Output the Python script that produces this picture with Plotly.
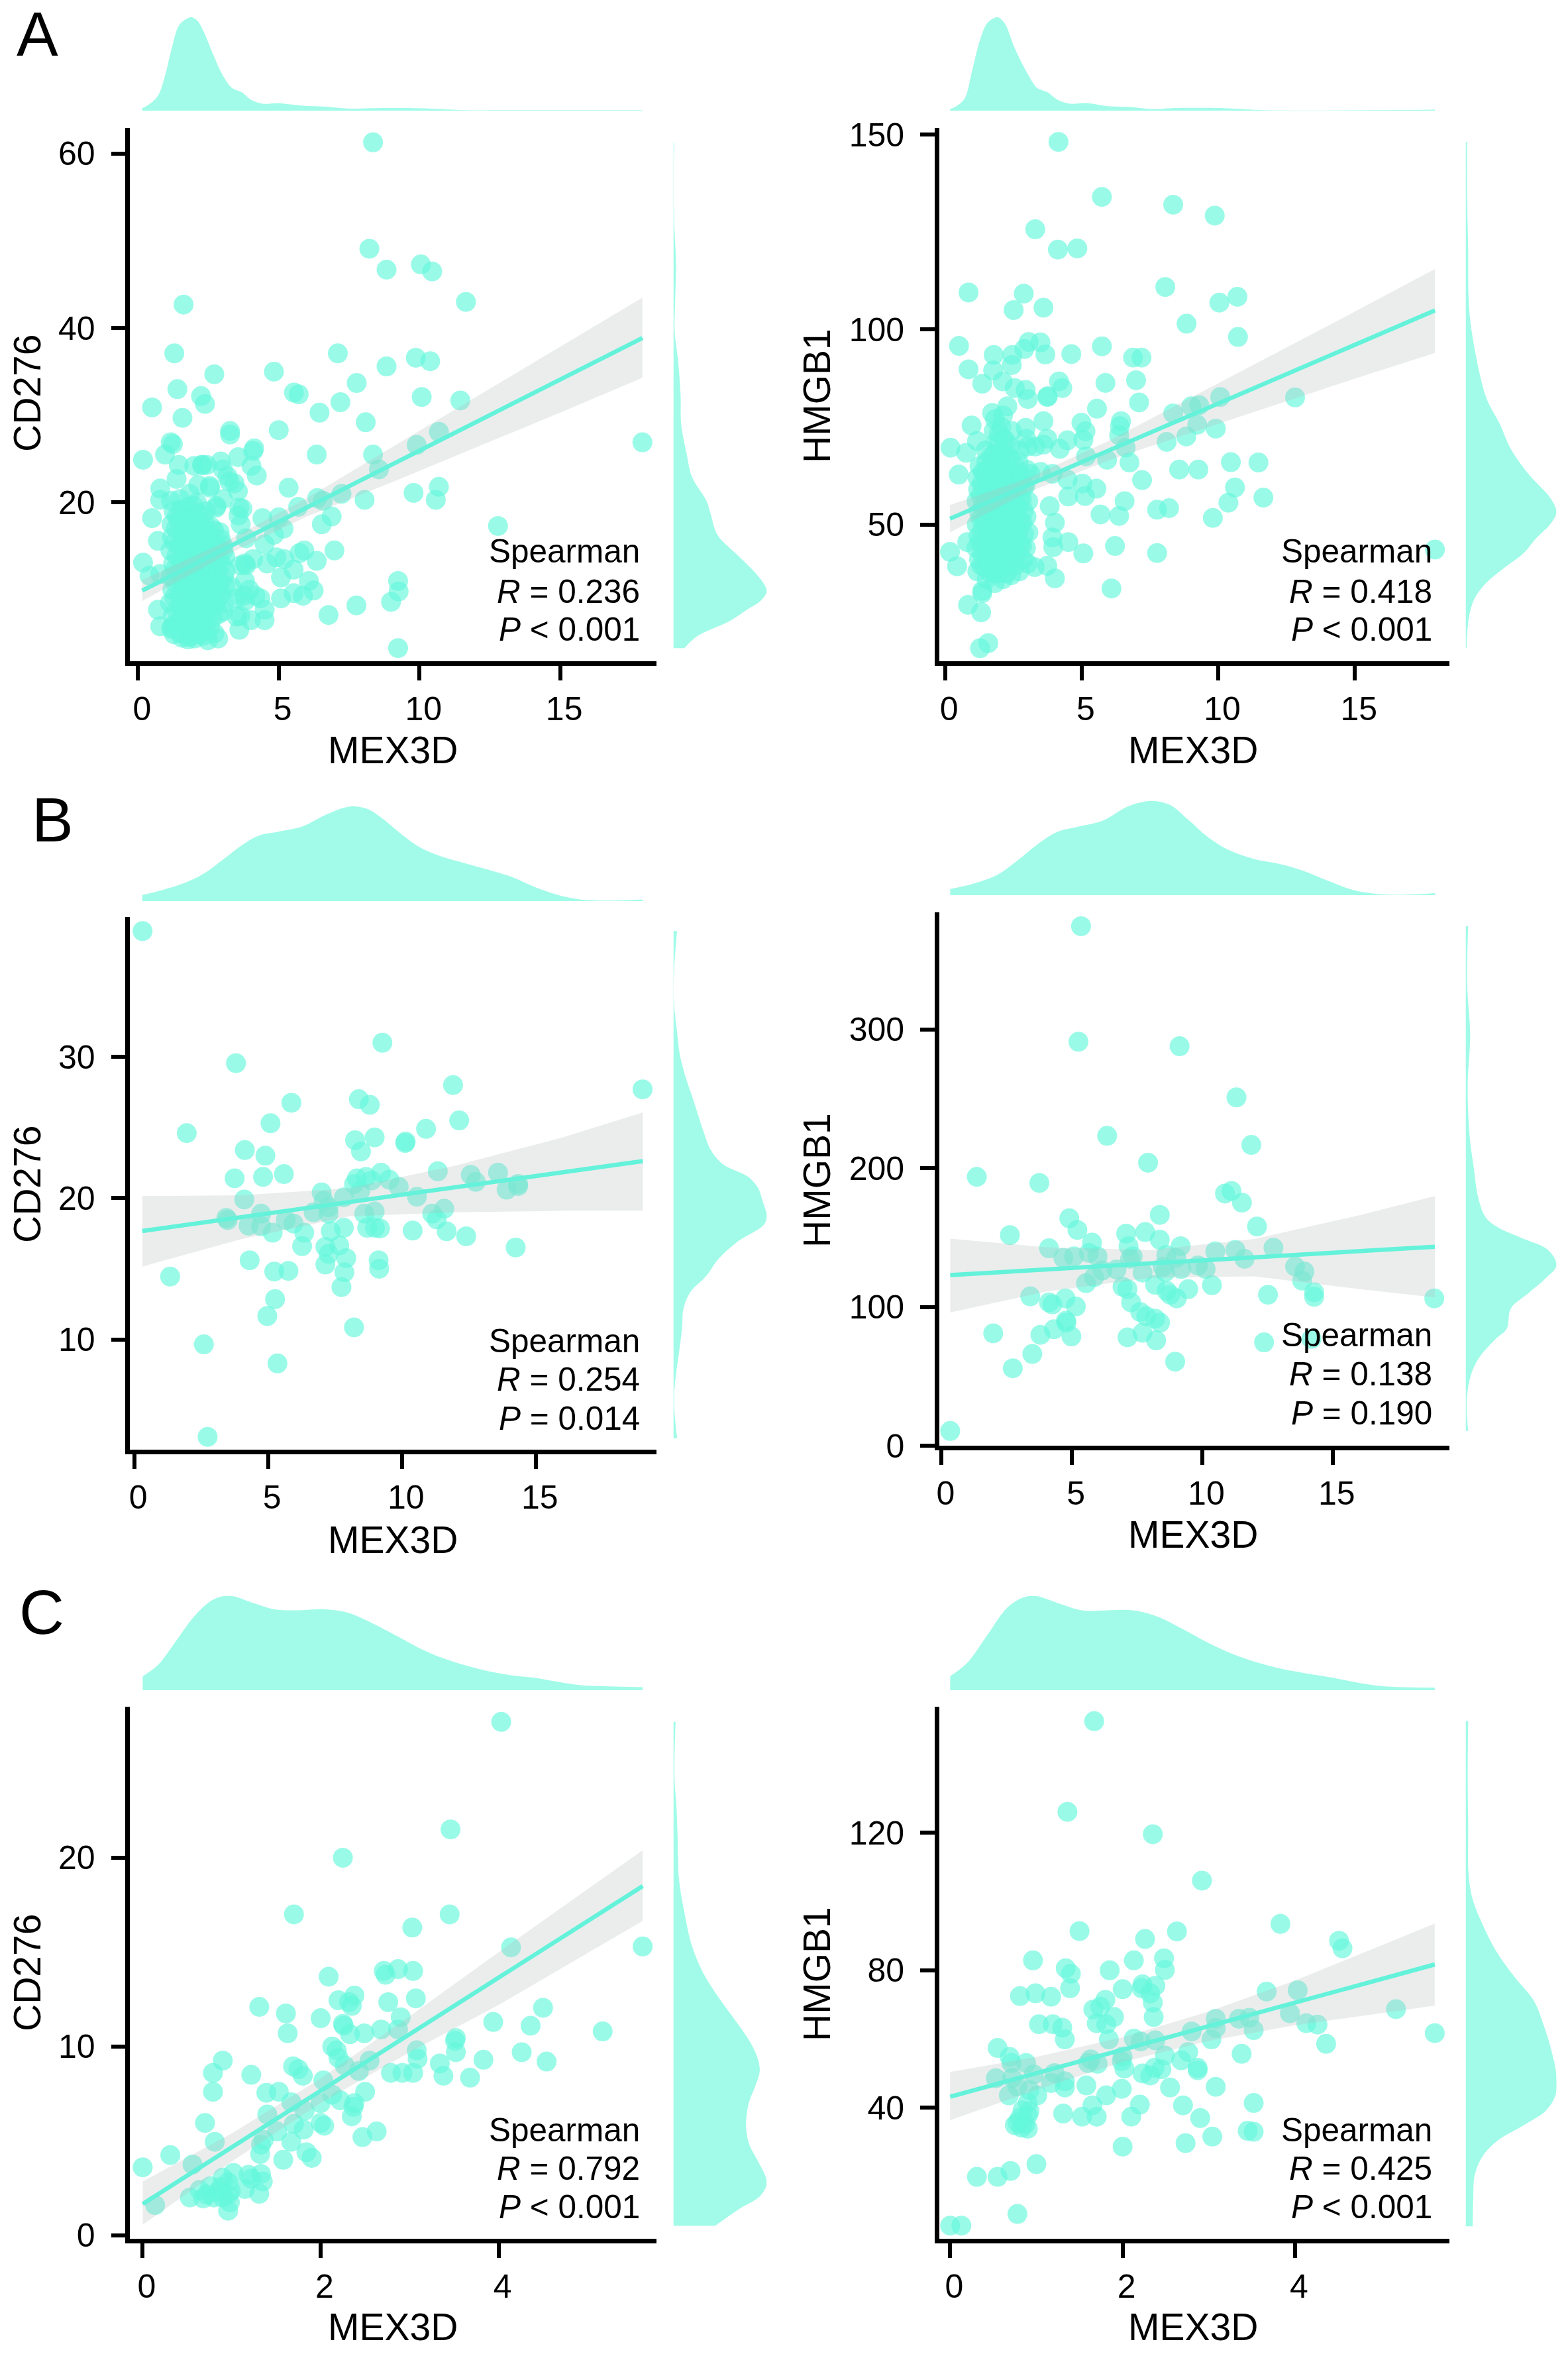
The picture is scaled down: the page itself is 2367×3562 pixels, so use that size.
import plotly.graph_objects as go

W, H = 2367, 3562
FONT = "Liberation Sans"
POINT = "#64F8DC"
LINE = "#64F2DA"
DENS = "#A1FBE8"
BAND = "rgba(180,190,190,0.27)"
AXIS_W = 6.5

a1_points = [
    (8.35, 61.3), (8.22, 49.1), (8.83, 46.7), (10.05, 47.3), (10.45, 46.5), (1.62, 42.7), (11.65, 43.0),
    (1.29, 37.1), (7.1, 37.1), (9.87, 36.6), (10.38, 36.2), (8.83, 35.6), (2.71, 34.7), (4.83, 35.0),
    (7.77, 33.7), (1.4, 33.0), (5.54, 32.6), (5.71, 32.4), (2.24, 32.2), (2.38, 31.3), (10.08, 32.1),
    (7.19, 31.5), (11.45, 31.7), (0.5, 30.9), (6.45, 30.3), (1.58, 29.7), (8.09, 29.2), (3.27, 28.2),
    (3.27, 27.8), (5.0, 28.3), (10.69, 28.1), (1.16, 26.9), (1.24, 26.7), (17.92, 26.9), (9.9, 26.6),
    (4.13, 26.2), (4.09, 25.9), (0.96, 25.5), (0.18, 24.9), (8.35, 25.5), (6.35, 25.5), (3.56, 25.2),
    (2.94, 24.7), (1.45, 24.3), (2.0, 24.2), (2.28, 24.3), (2.44, 24.3), (4.03, 24.2), (3.02, 23.8),
    (8.56, 23.8), (4.22, 23.1), (1.37, 22.7), (3.18, 23.0), (3.43, 22.2), (10.69, 21.8), (5.35, 21.7),
    (9.79, 21.1), (7.23, 21.0), (0.79, 21.6), (2.56, 21.7), (3.55, 21.3), (8.05, 20.3), (10.58, 20.3),
    (6.37, 20.5), (6.57, 20.2), (0.79, 20.3), (5.69, 19.5), (3.6, 19.4), (2.77, 19.4), (3.71, 19.3),
    (4.42, 18.2), (5.0, 18.3), (6.88, 18.4), (0.5, 18.2), (6.53, 17.5), (12.79, 17.3), (5.17, 17.0),
    (3.65, 17.5), (3.84, 15.9), (4.83, 16.3), (0.71, 15.6), (4.5, 15.2), (6.98, 14.5), (5.91, 14.5),
    (5.74, 14.2), (4.92, 13.7), (5.2, 13.5), (4.09, 13.5), (3.8, 13.0), (6.35, 13.3), (4.59, 13.0),
    (0.18, 13.1), (5.53, 12.3), (5.08, 11.4), (0.41, 11.6), (0.79, 11.8), (6.07, 11.0), (9.24, 11.0),
    (9.26, 9.8), (6.24, 9.9), (4.17, 9.3), (5.53, 9.6), (5.86, 9.3), (5.08, 9.0), (8.99, 8.6), (4.5, 7.7),
    (3.76, 9.3), (7.76, 8.2), (0.71, 7.7), (6.77, 7.1), (3.51, 6.9), (4.5, 6.5), (4.01, 6.5), (0.79, 5.8),
    (1.2, 5.7), (3.6, 5.4), (9.24, 3.3), (1.78, 4.3), (2.48, 4.2), (2.85, 4.4), (3.8, 8.7), (3.49, 9.0),
    (3.64, 7.0), (3.33, 10.3), (3.8, 11.0), (4.35, 9.0), (3.96, 10.0), (3.84, 12.8), (3.64, 12.8),
    (3.57, 18.5), (2.79, 19.6), (3.02, 20.4), (3.25, 22.4), (2.55, 21.9), (2.28, 24.3),
]
a1_cluster = [
    (1.18, 5.5), (1.24, 7.0), (1.14, 8.5), (1.22, 10.0), (1.16, 11.5), (1.25, 13.0), (1.15, 14.5),
    (1.21, 16.0), (1.19, 17.5), (1.26, 19.0), (1.17, 20.2), (1.52, 5.0), (1.46, 6.3), (1.55, 7.8),
    (1.48, 9.2), (1.54, 10.7), (1.44, 12.0), (1.53, 13.5), (1.47, 15.0), (1.56, 16.3), (1.45, 17.8),
    (1.51, 19.2), (1.49, 20.4), (1.82, 4.6), (1.76, 5.8), (1.85, 7.2), (1.78, 8.5), (1.84, 9.8),
    (1.74, 11.2), (1.83, 12.6), (1.77, 14.0), (1.86, 15.4), (1.75, 16.8), (1.81, 18.2), (1.79, 19.5),
    (1.84, 21.0), (2.12, 4.9), (2.06, 6.2), (2.15, 7.6), (2.08, 9.0), (2.14, 10.4), (2.04, 11.8),
    (2.13, 13.2), (2.07, 14.6), (2.16, 16.0), (2.05, 17.4), (2.11, 18.8), (2.09, 20.0), (2.14, 22.0),
    (2.42, 5.2), (2.36, 6.5), (2.45, 8.0), (2.38, 9.4), (2.44, 10.8), (2.34, 12.2), (2.43, 13.6),
    (2.37, 15.0), (2.46, 16.4), (2.35, 17.8), (2.41, 19.0), (2.72, 5.0), (2.66, 6.8), (2.75, 8.3),
    (2.68, 9.7), (2.74, 11.1), (2.64, 12.5), (2.73, 14.0), (2.67, 15.4), (2.71, 16.8), (3.02, 7.5),
    (2.96, 9.5), (3.05, 11.5), (2.98, 13.0), (3.04, 14.5), (2.94, 15.8),
    (1.32, 6.1), (1.36, 7.7), (1.29, 9.1), (1.35, 10.7), (1.31, 12.3), (1.37, 13.9), (1.3, 15.4),
    (1.34, 17.0), (1.38, 18.4), (1.66, 5.4), (1.62, 7.0), (1.69, 8.4), (1.64, 10.0), (1.68, 11.6),
    (1.61, 13.0), (1.67, 14.6), (1.63, 16.0), (1.7, 17.5), (1.65, 19.0), (1.96, 5.3), (1.92, 6.7),
    (1.99, 8.2), (1.94, 9.5), (1.98, 11.0), (1.91, 12.4), (1.97, 13.8), (1.93, 15.1), (2.0, 16.6),
    (1.95, 18.0), (1.98, 19.6), (2.26, 5.6), (2.22, 7.1), (2.29, 8.6), (2.24, 10.0), (2.28, 11.4),
    (2.21, 12.8), (2.27, 14.2), (2.23, 15.7), (2.3, 17.0), (2.25, 18.5), (2.56, 5.7), (2.52, 7.3),
    (2.59, 8.8), (2.54, 10.2), (2.58, 11.7), (2.51, 13.0), (2.57, 14.4), (2.53, 15.9), (2.6, 17.2),
    (2.86, 7.2), (2.82, 8.9), (2.89, 10.5), (2.84, 12.0), (2.88, 13.5), (2.81, 15.0), (1.28, 4.9),
    (2.02, 4.4), (2.32, 4.7), (1.56, 4.5), (3.08, 8.5), (3.1, 10.5), (3.12, 12.2), (3.1, 13.8),
    (3.02, 15.1), (2.9, 16.6),
]
a1_line_x = [0.15, 17.92]
a1_line_y = [9.9, 38.86]
a1_band_x = [0.15, 3, 6, 9, 12, 15, 17.92]
a1_band_hi = [11.1, 15.35, 20.5, 26.3, 32.1, 37.9, 43.5]
a1_band_lo = [8.7, 13.75, 18.4, 22.3, 26.3, 30.3, 34.3]
a1_top_x = [0.15, 0.38, 0.71, 0.96, 1.2, 1.45, 1.7, 1.9, 2.11, 2.36, 2.69, 3.02, 3.35, 3.68, 4.01, 4.42, 5, 5.83,
            6.65, 7.48, 8.3, 9.95, 10.78, 11.6, 13.25, 17.92]
a1_top_d = [5, 12, 30, 70, 125, 170, 183, 187, 180, 155, 110, 70, 45, 37, 22, 14, 15, 10, 8, 4, 5, 5, 3, 1, 1, 1]
a1_side_y = [61.3, 52.8, 47.3, 43.0, 39.6, 36.1, 32.2, 29.1, 25.6, 22.9, 20.2, 18.6, 16.3, 14.0, 12.0, 10.5, 9.8,
             8.7, 7.8, 6.4, 4.7, 3.3]
a1_side_d = [3, 3, 12, 8, 6, 22, 33, 35, 60, 85, 150, 170, 200, 290, 370, 415, 424, 395, 340, 255, 110, 50]

# panel A, HMGB1 vs MEX3D
a2_points = [
    (4.15, 148.1), (5.74, 134), (8.35, 132), (9.87, 129.2), (3.3, 125.7), (4.84, 120.8), (4.13, 120.5),
    (0.86, 109.5), (2.88, 109.2), (8.06, 110.9), (10.7, 108.4), (10.04, 106.9), (3.6, 105.6), (2.51, 105),
    (8.84, 101.5), (10.72, 98.1), (0.51, 95.8), (3.06, 96.8), (3.49, 96.7), (5.74, 95.7), (4.62, 93.7),
    (3.67, 93.6), (2.9, 95), (2.46, 93.5), (1.78, 93.5), (6.88, 92.8), (7.19, 92.8), (2.44, 90.9),
    (1.76, 89.5), (0.86, 89.8), (6.99, 87), (5.87, 86.3), (1.36, 86.1), (4.17, 86.7), (4.29, 85),
    (2.11, 86.7), (2.95, 84.5), (2.55, 85), (3.76, 82.9), (3.74, 82.7), (10.07, 82.7), (12.81, 82.6),
    (3.03, 82.2), (7.1, 81.3), (9.01, 80.3), (9.3, 80.6), (5.56, 79.7), (8.35, 78.5), (1.72, 78.6),
    (2.28, 80.3), (3.6, 76.5), (4.99, 76.1), (6.44, 76.5), (6.4, 75.2), (0.97, 75.4), (9.23, 75.6),
    (9.91, 74.6), (5.14, 73.9), (2.95, 74.8), (6.37, 72.9), (8.83, 72.6), (5.06, 71.7), (4.48, 71.6),
    (8.11, 71.2), (3.74, 72), (1.17, 71.4), (6.61, 69.7), (0.2, 69.7), (4.2, 69.4), (0.77, 68.4),
    (5.16, 67.5), (5.93, 66.6), (6.75, 65.9), (10.46, 66), (11.47, 65.9), (8.57, 64.1), (9.27, 64.1),
    (0.5, 62.8), (3.93, 63), (4.48, 61.5), (7.21, 61.4), (5.03, 60.5), (5.54, 59.2), (10.61, 59.5),
    (5.12, 57.3), (4.51, 57.2), (11.65, 56.9), (6.57, 56), (10.37, 55.6), (8.2, 54.2), (7.76, 53.8),
    (5.69, 52.6), (6.37, 52.2), (9.8, 51.7), (3.83, 54.7), (4.02, 50.5), (3.93, 46.7), (0.81, 45.5),
    (4.51, 45.5), (6.22, 44.5), (17.93, 43.6), (0.18, 43), (5.06, 42.6), (7.76, 42.7), (3.96, 44.2),
    (3.74, 39.4), (0.44, 39.3), (3.28, 39.1), (4.02, 36.2), (6.09, 33.6), (1.36, 33), (0.84, 29.4),
    (1.36, 32.4), (1.32, 27.5), (1.58, 19.6), (1.28, 18.3),
]
a2_cluster = [
    (1.18, 38), (1.24, 41), (1.14, 44), (1.22, 47), (1.16, 50), (1.25, 53), (1.15, 56), (1.21, 59),
    (1.19, 62), (1.26, 65), (1.52, 36), (1.46, 39), (1.55, 42), (1.48, 45), (1.54, 48), (1.44, 51),
    (1.53, 54), (1.47, 57), (1.56, 60), (1.45, 63), (1.51, 66), (1.49, 69), (1.82, 35), (1.76, 38),
    (1.85, 41), (1.78, 44), (1.84, 47), (1.74, 50), (1.83, 53), (1.77, 56), (1.86, 59), (1.75, 62),
    (1.81, 65), (1.79, 68), (1.84, 71), (1.78, 74), (1.83, 77), (2.12, 36), (2.06, 39), (2.15, 42),
    (2.08, 45), (2.14, 48), (2.04, 51), (2.13, 54), (2.07, 57), (2.16, 60), (2.05, 63), (2.11, 66),
    (2.09, 69), (2.14, 72), (2.06, 75), (2.12, 78), (2.42, 37), (2.36, 40), (2.45, 43), (2.38, 46),
    (2.44, 49), (2.34, 52), (2.43, 55), (2.37, 58), (2.46, 61), (2.35, 64), (2.41, 67), (2.39, 70),
    (2.44, 74), (2.72, 38), (2.66, 42), (2.75, 45), (2.68, 48), (2.74, 51), (2.64, 54), (2.73, 57),
    (2.67, 60), (2.71, 63), (2.69, 66), (2.74, 69), (3.02, 40), (2.96, 44), (3.05, 48), (2.98, 52),
    (3.04, 56), (2.94, 60), (3.01, 64), (3.03, 70), (2.97, 72), (3.3, 70), (3.6, 70.5), (3.12, 63),
    (3.5, 63.5),
    (1.32, 39.5), (1.36, 42.5), (1.29, 45.5), (1.35, 48.5), (1.31, 51.5), (1.37, 54.5), (1.3, 57.5),
    (1.34, 60.5), (1.38, 63.5), (1.66, 37.5), (1.62, 40.5), (1.69, 43.5), (1.64, 46.5), (1.68, 49.5),
    (1.61, 52.5), (1.67, 55.5), (1.63, 58.5), (1.7, 61.5), (1.65, 64.5), (1.68, 67.5), (1.96, 37.5),
    (1.92, 40.5), (1.99, 43.5), (1.94, 46.5), (1.98, 49.5), (1.91, 52.5), (1.97, 55.5), (1.93, 58.5),
    (2.0, 61.5), (1.95, 64.5), (1.98, 67.5), (1.94, 70.5), (1.97, 73.5), (2.26, 37.5), (2.22, 40.5),
    (2.29, 43.5), (2.24, 46.5), (2.28, 49.5), (2.21, 52.5), (2.27, 55.5), (2.23, 58.5), (2.3, 61.5),
    (2.25, 64.5), (2.28, 67.5), (2.22, 71.5), (2.56, 39.5), (2.52, 43.5), (2.59, 46.5), (2.54, 49.5),
    (2.58, 52.5), (2.51, 55.5), (2.57, 58.5), (2.53, 61.5), (2.6, 64.5), (2.86, 41), (2.82, 44.5),
    (2.89, 47.5), (2.84, 50.5), (2.88, 53.5), (2.81, 56.5), (2.87, 59.5), (2.83, 62.5),
]
a2_line_x = [0.18, 17.93]
a2_line_y = [51.5, 104.9]
a2_band_x = [0.18, 3, 6, 9, 12, 15, 17.93]
a2_band_hi = [55, 61.8, 71.5, 82.5, 93.5, 104.6, 115.5]
a2_band_lo = [48, 58.2, 66.5, 73.5, 80.5, 87.4, 94]
a2_top_x = [0.18, 0.44, 0.72, 0.99, 1.27, 1.54, 1.82, 1.94, 2.18, 2.55, 3.01, 3.38, 3.74, 4.11, 4.57, 5.21, 5.94,
            6.86, 7.6, 8.33, 10.17, 10.9, 11.63, 17.93]
a2_top_d = [3, 10, 25, 80, 140, 175, 186, 187, 175, 125, 75, 45, 37, 22, 14, 15, 9, 7, 3, 5, 5, 3, 1, 2]
a2_side_y = [148.1, 133.4, 120.6, 107.8, 101.4, 95, 88.6, 82.2, 75.8, 69.4, 63, 56.6, 53.1, 50.3, 46.4, 42.6, 38.7,
             34.9, 31.1, 27.2, 22.1, 18.3]
a2_side_d = [3, 3, 5, 6, 10, 18, 28, 42, 68, 90, 125, 170, 181, 170, 140, 115, 75, 40, 18, 8, 3, 2]

# panel B, CD276 vs MEX3D
b1_points = [
    (0.31, 38.9), (9.27, 31.0), (3.8, 29.55), (11.91, 28), (18.99, 27.7), (5.87, 26.75), (8.39, 27), (8.8, 26.6),
    (5.09, 25.3), (12.14, 25.5), (1.96, 24.6), (10.9, 24.9), (8.25, 24.1), (8.98, 24.3), (10.14, 24), (10.12, 23.9),
    (4.13, 23.4), (8.47, 23.3), (4.9, 23), (11.34, 21.9), (3.75, 21.4), (4.81, 21.5), (5.59, 21.7), (9.22, 21.8),
    (8.66, 21.5), (8.32, 21.4), (8.21, 21), (9.53, 21.3), (8.87, 21.25), (12.57, 21.65), (12.76, 21.15), (13.59, 21.8),
    (14.34, 21), (14.34, 20.85), (13.91, 20.6), (9.88, 20.8), (8.44, 20.5), (7, 20.4), (10.56, 20.1), (4.11, 19.9),
    (7.83, 20.05), (7.08, 19.8), (7.26, 19.35), (6.7, 19), (7.26, 18.9), (8.98, 19.05), (8.59, 18.9), (11.13, 18.9),
    (11.58, 19.25), (4.74, 18.9), (3.44, 18.6), (3.49, 18.45), (5.66, 18.45), (5.95, 18.2), (4.27, 18.05), (4.74, 18),
    (11.3, 18.5), (7.83, 17.9), (8.7, 17.9), (8.99, 17.9), (9.18, 17.85), (10.4, 17.7), (11.67, 17.65), (6.35, 17.55),
    (5.17, 17.55), (7.34, 17.65), (12.4, 17.3), (6.27, 16.6), (7.14, 16.55), (7.66, 16.65), (14.25, 16.5), (7.26, 16.05),
    (7.92, 15.75), (4.31, 15.6), (9.13, 15.6), (7.14, 15.3), (9.15, 15), (5.76, 14.85), (5.23, 14.8), (7.85, 14.75),
    (1.34, 14.45), (7.74, 13.7), (5.26, 12.85), (4.97, 11.65), (8.21, 10.85), (2.6, 9.65), (5.35, 8.3), (2.74, 3.1),
]
b1_line_x = [0.3, 19.0]
b1_line_y = [17.67, 22.62]
b1_band_x = [0.3, 4, 8, 12, 16, 19.0]
b1_band_hi = [20.14, 20.2, 20.7, 22.3, 24.3, 26.07]
b1_band_lo = [15.15, 17.1, 18.7, 19.0, 19.1, 19.1]
b1_top_x = [0.3, 1.06, 1.93, 2.62, 3.32, 4.01, 4.7, 5.4, 6.27, 7.14, 7.83, 8.18, 8.7, 9.22, 9.91, 10.61, 11.48,
            12.34, 13.21, 14.08, 14.95, 15.82, 16.68, 17.55, 19]
b1_top_d = [12, 22, 37, 55, 82, 110, 130, 137, 147, 170, 184, 187, 182, 165, 135, 108, 88, 75, 62, 48, 28, 12, 3, 1, 3]
b1_side_y = [38.9, 37.3, 35.6, 33.7, 32, 30.1, 28.6, 27.2, 26, 24.8, 23.4, 22.4, 21.5, 20.7, 19.8, 18.7, 18.1, 16.9,
             15.7, 14.5, 13.3, 12.1, 10.9, 9, 7.3, 5.6, 3]
b1_side_d = [17, 8, 2, 3, 15, 30, 55, 85, 110, 135, 170, 225, 340, 385, 405, 424, 410, 290, 205, 150, 75, 45, 40, 25,
             10, 3, 17]

# panel B, HMGB1 vs MEX3D
b2_points = [
    (5.35, 374.5), (5.25, 291.2), (9.13, 288), (11.31, 251.1), (6.35, 223.4), (11.88, 216.8), (7.92, 204), (1.35, 193.8),
    (3.75, 189.4), (11.12, 183.6), (10.87, 181.8), (11.52, 175.2), (8.37, 166.4), (4.9, 163.9), (12.1, 158), (5.21, 155.5),
    (2.62, 151.8), (7.08, 152.9), (7.81, 154), (8.37, 148.5), (5.77, 146.4), (9.17, 143.8), (4.12, 142.3), (7.17, 143.8),
    (12.73, 142.7), (10.5, 140.1), (11.27, 141.2), (5.65, 139), (8.62, 137.6), (4.67, 135.4), (5.08, 136.5), (5.98, 136.5),
    (7.33, 136.5), (7.23, 134.7), (9, 135.4), (11.62, 134.7), (9.83, 129.9), (13.56, 129.2), (8.48, 128.8), (9.19, 127.4),
    (10.13, 127.4), (6.17, 126.3), (6.71, 127), (13.92, 125.5), (7.71, 124.8), (5.85, 121.5), (8.58, 125.2), (13.83, 119),
    (8.19, 116), (5.54, 117.2), (10.37, 115.7), (6.94, 114.6), (9.46, 112.8), (8.63, 111.7), (7.13, 112.8), (14.29, 110.6),
    (12.52, 108.8), (14.29, 107.3), (8.77, 108.8), (3.4, 107.7), (9.02, 106.2), (18.9, 106.2), (4.75, 106.2), (4.12, 103.3),
    (4.25, 101.8), (7.27, 103.3), (5.15, 100.4), (7.62, 96.4), (7.85, 93.4), (8.19, 91.6), (4.77, 90.1), (4.79, 88.7),
    (8.38, 88.7), (4.31, 83.9), (3.79, 79.9), (1.98, 81), (4.98, 78.8), (7.71, 81.4), (7.13, 78.1), (8.23, 75.9),
    (14.19, 77), (12.37, 74.5), (3.48, 66.1), (8.96, 60.6), (2.73, 55.8), (0.33, 10.6),
]
b2_line_x = [0.33, 18.92]
b2_line_y = [123, 143.4]
b2_band_x = [0.33, 4, 8, 12, 16, 18.92]
b2_band_hi = [149.3, 143, 141, 149, 166, 179.9]
b2_band_lo = [96, 111, 121, 122, 113, 106.9]
b2_top_x = [0.33, 1.17, 2.13, 2.9, 3.67, 4.44, 5.21, 6.17, 7.13, 7.81, 8.19, 8.77, 9.44, 10.21, 10.98, 11.94, 13.1,
            13.87, 14.83, 15.79, 16.75, 17.9, 18.92]
b2_top_d = [12, 22, 40, 68, 100, 125, 135, 147, 175, 185, 186, 178, 150, 115, 90, 72, 60, 48, 28, 10, 2, 1, 4]
b2_side_y = [374.5, 332.5, 296, 259.5, 223, 201, 179, 164.6, 157.3, 150, 140.9, 129.9, 120.8, 109.9, 98.9, 84.3, 77,
             62.4, 47.8, 29.6, 10.6]
b2_side_d = [5, 3, 9, 4, 8, 16, 25, 40, 65, 110, 165, 181, 160, 125, 90, 82, 60, 25, 8, 2, 5]

# panel C, CD276 vs MEX3D
c1_points = [
    (4.03, 27.2), (3.46, 21.5), (2.25, 20), (1.7, 17), (3.45, 17), (3.03, 16.3), (5.62, 15.3), (4.14, 15.25), (2.71, 14),
    (2.87, 14.1), (2.73, 13.8), (3.04, 14), (2.09, 13.7), (2.38, 12.7), (2.2, 12.45), (2.32, 12.35), (2.35, 12.15),
    (2.76, 12.35), (3.07, 12.55), (1.31, 12.1), (4.5, 12.05), (1.61, 11.75), (2, 11.5), (2.9, 11.55), (2.25, 11.2),
    (2.26, 11.1), (3.94, 11.3), (4.36, 11.1), (2.87, 10.9), (2.68, 10.9), (5.17, 10.8), (1.63, 10.7), (2.33, 10.65),
    (2.49, 10.7), (3.52, 10.45), (3.51, 10.3), (2.13, 10), (3.52, 9.7), (3.08, 9.8), (4.26, 9.7), (2.18, 9.8), (2.2, 9.4),
    (0.9, 9.25), (2.55, 9.25), (3.09, 9.35), (3.83, 9.3), (4.54, 9.2), (3.34, 9.1), (2.27, 9), (1.69, 8.95), (1.75, 8.8),
    (2.43, 8.7), (0.79, 8.6), (2.79, 8.6), (2.92, 8.6), (3.04, 8.6), (3.38, 8.45), (1.22, 8.5), (1.8, 8.45), (3.68, 8.35),
    (2.03, 8.2), (1.53, 7.6), (2.5, 7.6), (0.79, 7.6), (1.39, 7.55), (2.13, 7.45), (1.67, 7.05), (2.22, 7.15), (2, 7),
    (2.38, 7), (2.37, 6.8), (1.82, 6.6), (1.4, 6.4), (2.35, 6.3), (0.7, 5.95), (2, 5.95), (1.7, 5.9), (2.04, 5.8),
    (1.81, 5.6), (1.51, 5.5), (2.63, 5.5), (2.47, 5.2), (1.67, 4.95), (0.81, 4.95), (1.36, 5.05), (1.33, 4.8), (1.84, 4.4),
    (1.32, 4.3), (1.9, 4.1), (0.31, 4.25), (1.58, 4), (0, 3.6), (0.56, 3.75), (1.02, 3.3), (1.19, 3.2), (1.33, 3.25),
    (0.9, 3.05), (1.35, 2.85), (1.22, 3), (1.15, 2.45), (1.31, 2.2), (0.76, 2.6), (0.64, 2.4), (0.53, 2), (0.68, 1.95),
    (0.8, 2), (0.96, 2.15), (0.88, 2.55), (0.96, 2.8), (0.85, 2.3), (0.98, 1.75), (0.96, 1.3), (0.14, 1.6), (0.9, 2),
    (0.99, 2.35), (0.72, 2.15),
]
c1_line_x = [0, 5.62]
c1_line_y = [1.66, 18.5]
c1_band_x = [0, 1, 2, 3, 4, 5.62]
c1_band_hi = [2.85, 5.4, 8.3, 11.6, 15.0, 20.4]
c1_band_lo = [0.55, 3.9, 7.0, 9.7, 12.2, 16.65]
c1_top_x = [0, 0.17, 0.38, 0.59, 0.8, 0.98, 1.22, 1.48, 1.74, 2.05, 2.31, 2.57, 2.84, 3.1, 3.36, 3.62, 3.88, 4.14,
            4.4, 4.66, 4.92, 5.19, 5.62]
c1_top_d = [28, 50, 100, 150, 182, 189, 176, 162, 160, 162, 155, 135, 110, 85, 65, 50, 38, 30, 25, 17, 10, 8, 6]
c1_side_y = [27.2, 24.3, 22.5, 20.7, 18.9, 17.1, 15.3, 13.9, 12.6, 11.4, 10.3, 9.4, 8.7, 8, 6.9, 5.7, 4.8, 3.9, 2.8,
             2.1, 1.4, 0.5]
c1_side_d = [10, 5, 15, 20, 25, 50, 85, 135, 205, 280, 345, 382, 392, 375, 340, 330, 345, 385, 424, 395, 300, 190]

# panel C, HMGB1 vs MEX3D
c2_points = [
    (1.67, 152.5), (1.36, 126.1), (2.35, 119.6), (2.92, 106.1), (3.83, 93.5), (1.5, 91.4), (2.63, 91.3), (2.26, 89.1),
    (4.51, 88.6), (4.55, 86.4), (0.96, 82.9), (2.13, 82.9), (2.48, 83.5), (1.34, 80.6), (1.4, 79), (1.85, 80), (2.49, 80.1),
    (1.39, 74.8), (2.23, 75.9), (2.38, 75.5), (2, 74.5), (2.22, 74.8), (2.32, 73.3), (3.67, 73.8), (4.03, 74.2), (0.81, 72.5),
    (0.99, 73.3), (1.17, 72.3), (1.8, 71.4), (2.35, 70.6), (1.74, 69.4), (1.66, 68.6), (5.17, 68.7), (3.94, 67.5), (1.9, 66.4),
    (2.36, 66.4), (1.7, 64.6), (1.81, 64.3), (3.08, 65.9), (3.35, 65.9), (3.47, 66.2), (1.03, 64.3), (1.19, 64.3), (1.3, 63.3),
    (4.13, 64.6), (4.26, 64.2), (3.08, 63.2), (3.52, 62.6), (5.62, 61.7), (2.8, 62.2), (1.84, 59.9), (1.33, 59.9), (2.13, 60.1),
    (2.21, 59.3), (2.38, 59.6), (3.03, 59.9), (0.55, 57.4), (4.36, 58.6), (3.38, 55.7), (2.76, 56.2), (0.69, 54.8), (2, 54.9),
    (2.49, 55.2), (1.63, 54.1), (0.71, 53), (0.88, 53), (1.99, 53.5), (2.68, 53.8), (1.6, 53), (1.71, 52.8), (2.02, 51.4),
    (2.37, 51.6), (2.45, 51.2), (2.87, 51.6), (2.87, 50.9), (1.21, 50.1), (0.97, 49.7), (2.23, 50), (2.32, 49.4), (0.53, 48.6),
    (0.72, 48.7), (1.33, 47.7), (1.17, 47.2), (1.33, 45.9), (1.58, 46.5), (2.55, 45.9), (3.08, 46.1), (1.99, 45.5), (0.78, 46.2),
    (1.01, 43.6), (0.68, 43.6), (1.81, 43.6), (0.92, 45.1), (3.52, 41.4), (1.65, 40.7), (2.2, 40.9), (0.9, 41.4), (2.7, 40.7),
    (0.84, 39.3), (0.92, 39), (1.31, 38.3), (2.1, 37.4), (1.53, 37.4), (1.7, 37.4), (2.9, 37), (0.81, 37.1), (0.9, 37.8),
    (0.78, 35.7), (0.87, 35.2), (0.75, 34.9), (0.9, 33.9), (0.83, 34.2), (3.45, 33.3), (3.52, 33), (3.04, 31.6), (2.73, 29.7),
    (2, 28.7), (1, 23.6), (0.7, 21.6), (0.31, 19.9), (0.55, 19.9), (0.78, 9.1), (0, 5.7), (0.13, 5.7),
]
c2_line_x = [0, 5.62]
c2_line_y = [43.2, 81.7]
c2_band_x = [0, 1, 2, 3, 4, 5.62]
c2_band_hi = [50.4, 54.8, 60.5, 68, 77, 93.6]
c2_band_lo = [36.4, 45.2, 53.3, 59.5, 64, 69.7]
c2_top_x = [0, 0.2, 0.43, 0.66, 0.84, 0.98, 1.24, 1.53, 1.83, 2.12, 2.41, 2.7, 2.99, 3.28, 3.57, 3.86, 4.15, 4.44,
            4.73, 5.02, 5.62]
c2_top_d = [28, 55, 110, 165, 185, 189, 175, 160, 160, 160, 147, 122, 95, 72, 55, 42, 33, 25, 15, 8, 5]
c2_side_y = [152.5, 136.4, 121.9, 107.4, 100.1, 92.9, 85.7, 78.4, 71.2, 63.9, 56.7, 49.4, 43.6, 39.3, 34.9, 30.6,
             26.2, 20.4, 13.2, 5.5]
c2_side_d = [5, 4, 5, 6, 15, 35, 60, 95, 135, 155, 170, 180, 178, 160, 115, 65, 35, 18, 15, 14]

panels = [
    dict(points=a1_points + a1_cluster, line=(a1_line_x, a1_line_y), band=(a1_band_x, a1_band_hi, a1_band_lo),
         top=(a1_top_x, a1_top_d), side=(a1_side_y, a1_side_d), name="CD276", xticks=[0, 5, 10, 15], yticks=[20, 40, 60],
         xr=[-0.36, 18.42], yr=[1.57, 62.96], box=(193, 991, 193, 1001), top_px=(26, 167), side_px=(1016.5, 1157.5),
         ytitle=(41, 594), xtitle=(593, 1132), note=(968, [831, 892, 950]), stats=("0.236", "<", "0.001")),
    dict(points=a2_points + a2_cluster, line=(a2_line_x, a2_line_y), band=(a2_band_x, a2_band_hi, a2_band_lo),
         top=(a2_top_x, a2_top_d), side=(a2_side_y, a2_side_d), name="HMGB1", xticks=[0, 5, 10, 15], yticks=[50, 100, 150],
         xr=[-0.29, 18.46], yr=[14.45, 151.7], box=(1414.7, 2188, 193, 1001), top_px=(26, 167), side_px=(2212.5, 2349.5),
         ytitle=(1233, 598), xtitle=(1801, 1132), note=(2164, [831, 892, 950]), stats=("0.418", "<", "0.001")),
    dict(points=b1_points, line=(b1_line_x, b1_line_y), band=(b1_band_x, b1_band_hi, b1_band_lo),
         top=(b1_top_x, b1_top_d), side=(b1_side_y, b1_side_d), name="CD276", xticks=[0, 5, 10, 15], yticks=[10, 20, 30],
         xr=[-0.24, 19.51], yr=[2.03, 39.9], box=(193, 991, 1384, 2191.5), top_px=(1217, 1360), side_px=(1016.5, 1157.5),
         ytitle=(41, 1788), xtitle=(593, 2324), note=(968, [2023, 2081, 2140]), stats=("0.254", "=", "0.014")),
    dict(points=b2_points, line=(b2_line_x, b2_line_y), band=(b2_band_x, b2_band_hi, b2_band_lo),
         top=(b2_top_x, b2_top_d), side=(b2_side_y, b2_side_d), name="HMGB1", xticks=[0, 5, 10, 15], yticks=[0, 100, 200, 300],
         xr=[-0.17, 19.48], yr=[0, 384.7], box=(1414.7, 2188, 1376.6, 2182), top_px=(1209, 1351), side_px=(2212.5, 2349.5),
         ytitle=(1233, 1782), xtitle=(1801, 2316), note=(2164, [2014, 2073, 2132]), stats=("0.138", "=", "0.190")),
    dict(points=c1_points, line=(c1_line_x, c1_line_y), band=(c1_band_x, c1_band_hi, c1_band_lo),
         top=(c1_top_x, c1_top_d), side=(c1_side_y, c1_side_d), name="CD276", xticks=[0, 2, 4], yticks=[0, 10, 20],
         xr=[-0.167, 5.775], yr=[-0.29, 28], box=(193, 991, 2576, 3382), top_px=(2408.6, 2551), side_px=(1016.5, 1157.5),
         ytitle=(41, 2978), xtitle=(593, 3512), note=(968, [3214, 3272, 3330]), stats=("0.792", "<", "0.001")),
    dict(points=c2_points, line=(c2_line_x, c2_line_y), band=(c2_band_x, c2_band_hi, c2_band_lo),
         top=(c2_top_x, c2_top_d), side=(c2_side_y, c2_side_d), name="HMGB1", xticks=[0, 2, 4], yticks=[40, 80, 120],
         xr=[-0.151, 5.79], yr=[1.3, 156.7], box=(1414.7, 2188, 2576, 3382), top_px=(2408.6, 2551), side_px=(2212.5, 2349.5),
         ytitle=(1233, 2980), xtitle=(1801, 3512), note=(2164, [3214, 3272, 3330]), stats=("0.425", "<", "0.001")),
]
letters = [("A", 56, 52), ("B", 79, 1237), ("C", 63, 2433)]


def px_x(v):
    return v / W


def px_y(v):
    return 1 - v / H


def text_note(text, x, y, size, xanchor="center", angle=0):
    return dict(text=text, x=px_x(x), y=px_y(y), xref="paper", yref="paper", showarrow=False, xanchor=xanchor,
                yanchor="middle", textangle=angle, font=dict(family=FONT, size=size, color="black"))


fig = go.Figure()
layout = {}
annotations = []
hidden = dict(visible=False, fixedrange=True)

for i, p in enumerate(panels):
    left, right, top, bottom = p["box"]
    xr = list(p["xr"])
    yr = list(p["yr"])

    # plotly draws axis lines outside the domain, so pull the box in by half a line width
    # (not where a 0 tick sits on the corner, it would fall out of range)
    nudge = AXIS_W / 2
    xr[0] += nudge * (xr[1] - xr[0]) / (right - left)
    left += nudge
    if yr[0] != 0:
        yr[0] += nudge * (yr[1] - yr[0]) / (bottom - top)
        bottom -= nudge

    n = i * 3
    main_x, main_y = f"x{n + 1}", f"y{n + 1}"
    top_x, top_y = f"x{n + 2}", f"y{n + 2}"
    side_x, side_y = f"x{n + 3}", f"y{n + 3}"
    xdom = [px_x(left), px_x(right)]
    ydom = [px_y(bottom), px_y(top)]

    # scatter first, ribbon and fit on top like in the original
    fig.add_trace(go.Scatter(x=[q[0] for q in p["points"]], y=[q[1] for q in p["points"]], mode="markers",
                             marker=dict(size=30, color=POINT, opacity=0.65, line=dict(width=0)),
                             xaxis=main_x, yaxis=main_y, showlegend=False))
    bx, hi, lo = p["band"]
    fig.add_trace(go.Scatter(x=bx + bx[::-1], y=hi + lo[::-1], mode="lines", fill="toself", fillcolor=BAND,
                             line=dict(width=0), xaxis=main_x, yaxis=main_y, showlegend=False))
    fig.add_trace(go.Scatter(x=p["line"][0], y=p["line"][1], mode="lines", line=dict(color=LINE, width=6.5),
                             xaxis=main_x, yaxis=main_y, showlegend=False))

    # marginal densities
    fig.add_trace(go.Scatter(x=p["top"][0], y=p["top"][1], mode="lines", fill="tozeroy", fillcolor=DENS,
                             line=dict(width=0, shape="spline"), xaxis=top_x, yaxis=top_y, showlegend=False))
    fig.add_trace(go.Scatter(x=p["side"][1], y=p["side"][0], mode="lines", fill="tozerox", fillcolor=DENS,
                             line=dict(width=0, shape="spline"), xaxis=side_x, yaxis=side_y, showlegend=False))

    axis = dict(showline=True, linecolor="black", linewidth=AXIS_W, ticks="outside", ticklen=22, tickwidth=5.5,
                tickcolor="black", showgrid=False, zeroline=False, fixedrange=True,
                tickfont=dict(family=FONT, size=50, color="black"))
    layout[f"xaxis{n + 1}"] = dict(axis, domain=xdom, range=xr, anchor=main_y, tickvals=p["xticks"],
                                   ticklabelshift=6, ticklabelstandoff=0)
    layout[f"yaxis{n + 1}"] = dict(axis, domain=ydom, range=yr, anchor=main_x, tickvals=p["yticks"],
                                   ticklabelstandoff=14)
    layout[f"xaxis{n + 2}"] = dict(hidden, domain=xdom, range=xr, anchor=top_y)
    layout[f"yaxis{n + 2}"] = dict(hidden, domain=[px_y(p["top_px"][1]), px_y(p["top_px"][0])],
                                   range=[0, max(p["top"][1])], anchor=top_x)
    layout[f"xaxis{n + 3}"] = dict(hidden, domain=[px_x(p["side_px"][0]), px_x(p["side_px"][1])],
                                   range=[0, max(p["side"][1])], anchor=side_y)
    layout[f"yaxis{n + 3}"] = dict(hidden, domain=ydom, range=yr, anchor=side_x)

    annotations.append(text_note("MEX3D", p["xtitle"][0], p["xtitle"][1], 57))
    annotations.append(text_note(p["name"], p["ytitle"][0], p["ytitle"][1], 57, angle=-90))
    r, op, pv = p["stats"]
    note_x, note_y = p["note"]
    op = "&lt;" if op == "<" else op
    for line_text, y in zip(["Spearman", f"<i>R</i> = {r}", f"<i>P</i> {op} {pv}"], note_y):
        annotations.append(text_note(line_text, note_x, y, 49.5, xanchor="right"))

for label, x, y in letters:
    annotations.append(text_note(label, x, y, 94))

fig.update_layout(width=W, height=H, margin=dict(l=0, r=0, t=0, b=0, autoexpand=False), paper_bgcolor="white",
                  plot_bgcolor="rgba(0,0,0,0)", showlegend=False, annotations=annotations, **layout)

fig.write_html("out.html", config=dict(displayModeBar=False),
               post_script="document.body.style.margin='0';")
